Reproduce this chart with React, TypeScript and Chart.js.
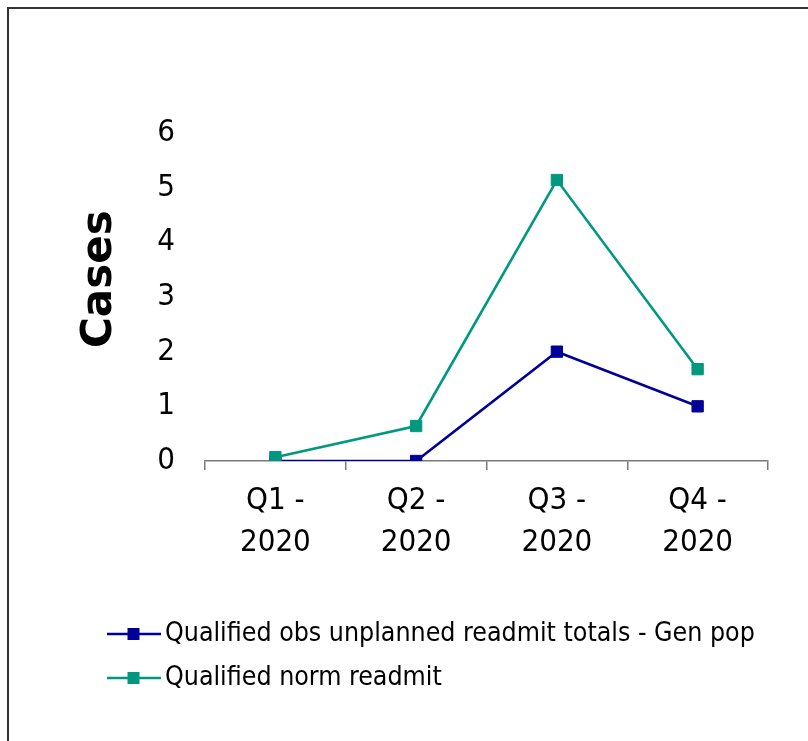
import React, { useEffect, useRef } from 'react';
import { Chart, registerables } from 'chart.js';

Chart.register(...registerables);

const categories: string[][] = [
  ['Q1 -', '2020'],
  ['Q2 -', '2020'],
  ['Q3 -', '2020'],
  ['Q4 -', '2020'],
];
const seriesNames = ['Qualified obs unplanned readmit totals - Gen pop', 'Qualified norm readmit'];
const obsValues = [0, 0, 2, 1];
const normValues = [0.07, 0.64, 5.14, 1.68];
const yMin = 0;
const yMax = 6;
const yStep = 1;
const yTitle = 'Cases';

const BLUE = '#000099';
const GREEN = '#00997F';
const TICK_FONT = "'DejaVu Sans Condensed', 'DejaVu Sans', sans-serif";
const LEGEND_FONT = "'DejaVu Sans Condensed', 'DejaVu Sans', sans-serif";
const TITLE_FONT = "'DejaVu Sans', Verdana, sans-serif";
const LEGEND_SIZE = 26.5;

function legendIcon(color: string): HTMLCanvasElement {
  const c = document.createElement('canvas');
  c.width = 54;
  c.height = 12;
  const ctx = c.getContext('2d')!;
  ctx.strokeStyle = color;
  ctx.lineWidth = 2.5;
  ctx.beginPath();
  ctx.moveTo(0, 6);
  ctx.lineTo(54, 6);
  ctx.stroke();
  ctx.fillStyle = color;
  ctx.fillRect(21, 0, 12, 12);
  return c;
}

export default function App() {
  const ref = useRef<HTMLCanvasElement | null>(null);

  useEffect(() => {
    if (!ref.current) return;
    const icons = [legendIcon(BLUE), legendIcon(GREEN)];
    const chart = new Chart(ref.current, {
      type: 'line',
      data: {
        labels: categories,
        datasets: [
          {
            label: seriesNames[0],
            data: obsValues,
            borderColor: BLUE,
            backgroundColor: BLUE,
            borderWidth: 2.6,
            pointStyle: 'rect',
            pointRadius: 8,
            pointBorderWidth: 1,
            pointBackgroundColor: BLUE,
            pointBorderColor: BLUE,
            tension: 0,
            order: 1,
          },
          {
            label: seriesNames[1],
            data: normValues,
            borderColor: GREEN,
            backgroundColor: GREEN,
            borderWidth: 2.6,
            pointStyle: 'rect',
            pointRadius: 8,
            pointBorderWidth: 1,
            pointBackgroundColor: GREEN,
            pointBorderColor: GREEN,
            tension: 0,
            order: 0,
          },
        ],
      },
      options: {
        animation: false,
        responsive: false,
        maintainAspectRatio: false,
        layout: { padding: { left: 97.75, right: 40, top: 133, bottom: 39.75 } },
        plugins: {
          tooltip: { enabled: false },
          legend: {
            position: 'bottom',
            align: 'start',
            labels: {
              usePointStyle: true,
              pointStyleWidth: 36.5,
              padding: 17.5,
              color: '#000',
              font: { family: LEGEND_FONT, size: LEGEND_SIZE },
              sort: (a: any, b: any) => a.datasetIndex - b.datasetIndex,
              generateLabels: (chart: any) =>
                chart.data.datasets.map((ds: any, i: number) => ({
                  text: ds.label,
                  fillStyle: ds.borderColor,
                  strokeStyle: ds.borderColor,
                  lineWidth: 0,
                  pointStyle: icons[i],
                  hidden: false,
                  datasetIndex: i,
                })),
            },
          },
        },
        scales: {
          x: {
            type: 'category',
            offset: true,
            grid: {
              display: true,
              offset: true,
              drawOnChartArea: false,
              drawTicks: true,
              tickLength: 9,
              color: '#7a7a7a',
              lineWidth: 1.5,
            },
            border: { display: true, color: '#7a7a7a', width: 1.5 },
            ticks: {
              color: '#000',
              padding: 10,
              maxRotation: 0,
              autoSkip: false,
              font: { family: TICK_FONT, size: 31, lineHeight: 1.35 },
            },
            afterFit: (scale: any) => {
              scale.height = 142.25;
            },
          },
          y: {
            min: yMin,
            max: yMax,
            grid: { display: false, drawTicks: false, tickLength: 0 },
            border: { display: false },
            ticks: {
              stepSize: yStep,
              color: '#000',
              padding: 30,
              font: { family: TICK_FONT, size: 31 },
            },
            title: {
              display: true,
              text: '\u2002 ' + yTitle,
              color: '#000',
              padding: { top: -18.75, bottom: 0 },
              font: { family: TITLE_FONT, size: 42, weight: 'bold', lineHeight: 1 },
            },
            afterFit: (scale: any) => {
              scale.width = 107.25;
            },
          },
        },
      },
    } as any);
    return () => chart.destroy();
  }, []);

  return (
    <div style={{ position: 'fixed', left: 0, top: 0, width: 808, height: 741, background: '#fff', overflow: 'hidden' }}>
      <div
        style={{
          position: 'absolute',
          left: 7,
          top: 7,
          width: 900,
          height: 900,
          borderLeft: '2px solid #333',
          borderTop: '2px solid #333',
          boxSizing: 'border-box',
        }}
      />
      <canvas ref={ref} width={808} height={741} style={{ position: 'absolute', left: 0, top: 0, width: 808, height: 741 }} />
    </div>
  );
}
